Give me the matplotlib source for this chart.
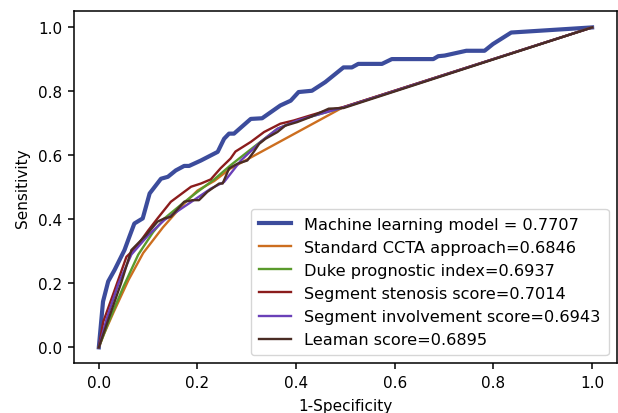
import matplotlib
matplotlib.use('Agg')
import matplotlib.pyplot as plt

# ROC points
ml_fpr = [0, 0.0085, 0.019, 0.032, 0.052, 0.062, 0.072, 0.089, 0.103, 0.116, 0.126, 0.140,
          0.156, 0.173, 0.183, 0.207, 0.241, 0.254, 0.264, 0.274, 0.308, 0.331, 0.368,
          0.389, 0.405, 0.432, 0.459, 0.496, 0.513, 0.526, 0.574, 0.594, 0.678, 0.688,
          0.701, 0.745, 0.782, 0.799, 0.836, 1.0]
ml_tpr = [0, 0.143, 0.206, 0.242, 0.304, 0.346, 0.387, 0.403, 0.481, 0.507, 0.527, 0.533,
          0.553, 0.567, 0.567, 0.584, 0.611, 0.652, 0.668, 0.668, 0.714, 0.716, 0.756,
          0.771, 0.798, 0.802, 0.829, 0.875, 0.875, 0.886, 0.886, 0.901, 0.901, 0.910,
          0.912, 0.927, 0.927, 0.948, 0.984, 1.0]

ccta_fpr = [0, 0.01, 0.03, 0.06, 0.09, 0.13, 0.17, 0.20, 0.234, 0.267, 0.496, 1.0]
ccta_tpr = [0, 0.04, 0.11, 0.21, 0.295, 0.375, 0.445, 0.49, 0.52, 0.559, 0.751, 1.0]

duke_fpr = [0, 0.02, 0.05, 0.08, 0.11, 0.133, 0.17, 0.2, 0.234, 0.267, 0.314, 0.362,
            0.402, 0.45, 0.496, 1.0]
duke_tpr = [0, 0.08, 0.19, 0.29, 0.36, 0.403, 0.45, 0.486, 0.525, 0.569, 0.626, 0.683,
            0.709, 0.73, 0.75, 1.0]

sss_fpr = [0, 0.009, 0.03, 0.056, 0.07, 0.079, 0.1, 0.119, 0.146, 0.187, 0.207, 0.227,
           0.247, 0.267, 0.277, 0.308, 0.335, 0.368, 0.395, 0.429, 0.462, 0.496, 1.0]
sss_tpr = [0, 0.08, 0.17, 0.283, 0.304, 0.32, 0.365, 0.403, 0.455, 0.502, 0.512, 0.525,
           0.56, 0.59, 0.612, 0.642, 0.673, 0.699, 0.709, 0.725, 0.74, 0.751, 1.0]

sis_fpr = [0, 0.016, 0.04, 0.066, 0.1, 0.133, 0.183, 0.227, 0.254, 0.288, 0.328, 0.362,
           0.402, 0.45, 0.496, 1.0]
sis_tpr = [0, 0.09, 0.2, 0.29, 0.35, 0.398, 0.45, 0.496, 0.517, 0.584, 0.642, 0.683,
           0.709, 0.73, 0.75, 1.0]

leaman_fpr = [0, 0.02, 0.045, 0.066, 0.096, 0.119, 0.133, 0.146, 0.173, 0.19, 0.203,
              0.22, 0.244, 0.251, 0.264, 0.281, 0.301, 0.314, 0.325, 0.338, 0.362, 0.378,
              0.402, 0.429, 0.466, 0.496, 1.0]
leaman_tpr = [0, 0.09, 0.2, 0.304, 0.351, 0.393, 0.403, 0.408, 0.455, 0.46, 0.46, 0.486,
              0.512, 0.512, 0.559, 0.574, 0.584, 0.611, 0.636, 0.652, 0.673, 0.693, 0.704,
              0.72, 0.746, 0.748, 1.0]

labels = ['Machine learning model = 0.7707', 'Standard CCTA approach=0.6846',
          'Duke prognostic index=0.6937', 'Segment stenosis score=0.7014',
          'Segment involvement score=0.6943', 'Leaman score=0.6895']
colors = ['#3c4c9c', '#cc6e1f', '#5a9a2c', '#8b1c1c', '#6a40b8', '#4a2c24']

fig = plt.figure(figsize=(6.18, 4.14), dpi=100)
ax = fig.add_axes([0.12, 0.12, 0.878, 0.85])

ax.plot(ml_fpr, ml_tpr, color=colors[0], lw=3, label=labels[0])
ax.plot(ccta_fpr, ccta_tpr, color=colors[1], lw=1.7, label=labels[1])
ax.plot(duke_fpr, duke_tpr, color=colors[2], lw=1.7, label=labels[2])
ax.plot(sss_fpr, sss_tpr, color=colors[3], lw=1.7, label=labels[3])
ax.plot(sis_fpr, sis_tpr, color=colors[4], lw=1.7, label=labels[4])
ax.plot(leaman_fpr, leaman_tpr, color=colors[5], lw=1.7, label=labels[5])

for sp in ax.spines.values():
    sp.set_linewidth(1.1)

ax.set_xlabel('1-Specificity', fontsize=11, labelpad=6)
ax.set_ylabel('Sensitivity', fontsize=11, labelpad=6)
ax.tick_params(labelsize=11, width=1.1, length=4, pad=4.5)
ax.legend(loc='lower right', fontsize=11.6, labelspacing=0.5, borderpad=0.5)

plt.savefig('out.png')
